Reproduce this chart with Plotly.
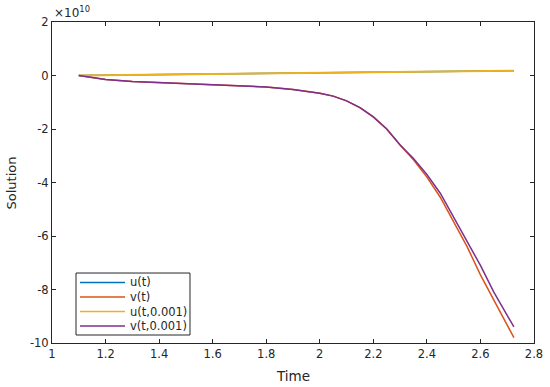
import plotly.graph_objects as go

# Time samples
t = [1.10, 1.2, 1.3, 1.4, 1.5, 1.6, 1.7, 1.8, 1.9, 2.0, 2.05, 2.1, 2.15, 2.2,
     2.25, 2.3, 2.35, 2.4, 2.45, 2.5, 2.55, 2.6, 2.65, 2.7, 2.725]

# Values in units of 1e10
u_exact = [0.0, 0.01, 0.02, 0.03, 0.04, 0.05, 0.06, 0.07, 0.08, 0.09, 0.095, 0.10,
           0.105, 0.11, 0.115, 0.12, 0.125, 0.13, 0.135, 0.14, 0.15, 0.155, 0.16, 0.17, 0.175]
v_exact = [0.0, -0.15, -0.22, -0.26, -0.29, -0.33, -0.37, -0.43, -0.52, -0.66, -0.77,
           -0.95, -1.2, -1.55, -2.0, -2.6, -3.15, -3.8, -4.55, -5.45, -6.4, -7.45, -8.4,
           -9.3, -9.8]
u_approx = [0.0, 0.01, 0.02, 0.03, 0.04, 0.05, 0.06, 0.07, 0.08, 0.09, 0.095, 0.10,
            0.105, 0.11, 0.115, 0.12, 0.125, 0.13, 0.135, 0.14, 0.15, 0.155, 0.16, 0.17, 0.18]
v_approx = [0.0, -0.15, -0.22, -0.26, -0.29, -0.33, -0.37, -0.43, -0.52, -0.66, -0.77,
            -0.95, -1.2, -1.55, -2.0, -2.6, -3.1, -3.7, -4.4, -5.3, -6.2, -7.1, -8.1,
            -8.95, -9.4]

names = ["u(t)", "v(t)", "u(t,0.001)", "v(t,0.001)"]
colors = ["#0072BD", "#D95319", "#EDB120", "#7E2F8E"]
widths = [1.5, 1.5, 2.0, 1.5]
series = [u_exact, v_exact, u_approx, v_approx]

x_ticks = [1, 1.2, 1.4, 1.6, 1.8, 2, 2.2, 2.4, 2.6, 2.8]
x_ticktext = ["1", "1.2", "1.4", "1.6", "1.8", "2", "2.2", "2.4", "2.6", "2.8"]
y_ticks = [-10, -8, -6, -4, -2, 0, 2]
y_ticktext = ["-10", "-8", "-6", "-4", "-2", "0", "2"]

FONT = "DejaVu Sans, Arial, sans-serif"
INK = "#262626"

fig = go.Figure()
for n, c, w, s in zip(names, colors, widths, series):
    fig.add_trace(go.Scatter(x=t, y=s, mode="lines", name=n, showlegend=False,
                             line=dict(color=c, width=w)))

axis_common = dict(showline=True, linecolor=INK, linewidth=1, mirror="ticks",
                   ticks="inside", ticklen=4, tickcolor=INK, showgrid=False,
                   zeroline=False, automargin=False, ticklabeloverflow="allow",
                   tickfont=dict(size=11.5, color=INK, family=FONT))

# Manual legend (box, sample lines, labels) in paper coordinates
leg_x0, leg_x1, leg_y0, leg_y1 = 0.0498, 0.2863, 0.0249, 0.218
row_y = [0.1885, 0.1433, 0.0981, 0.0530]
shapes = [dict(type="rect", xref="paper", yref="paper", x0=leg_x0, x1=leg_x1,
               y0=leg_y0, y1=leg_y1, line=dict(color=INK, width=1),
               fillcolor="white", layer="above")]
annotations = []
for n, c, ry in zip(names, colors, row_y):
    shapes.append(dict(type="line", xref="paper", yref="paper", x0=0.0581, x1=0.1515,
                       y0=ry, y1=ry, line=dict(color=c, width=1.5), layer="above"))
    annotations.append(dict(xref="paper", yref="paper", x=0.1577, y=ry, xanchor="left",
                            yanchor="middle", showarrow=False, text=n,
                            font=dict(size=11.5, color=INK, family=FONT)))

annotations += [
    dict(xref="paper", yref="paper", x=0.0, y=1.0, xanchor="left", yanchor="bottom",
         showarrow=False, text="×10<sup>10</sup>", font=dict(size=12, color=INK, family=FONT)),
    dict(xref="paper", yref="paper", x=0.5, y=-0.102, xanchor="center", yanchor="middle",
         showarrow=False, text="Time", font=dict(size=13.5, color=INK, family=FONT)),
    dict(xref="paper", yref="paper", x=-0.083, y=0.5, xanchor="center", yanchor="middle",
         showarrow=False, text="Solution", textangle=-90,
         font=dict(size=13, color=INK, family=FONT)),
]

fig.update_layout(
    width=550, height=387,
    margin=dict(l=52, r=16, t=22, b=44),
    paper_bgcolor="white", plot_bgcolor="white",
    font=dict(family=FONT, color=INK),
    xaxis=dict(range=[1, 2.8], tickvals=x_ticks, ticktext=x_ticktext, **axis_common),
    yaxis=dict(range=[-10, 2], tickvals=y_ticks, ticktext=y_ticktext, **axis_common),
    showlegend=False,
    shapes=shapes,
    annotations=annotations,
)

# Remove the page's default body margin so the figure fills the window exactly.
fig.write_html("out.html", config={"displayModeBar": False},
               post_script="document.body.style.margin='0px';")
